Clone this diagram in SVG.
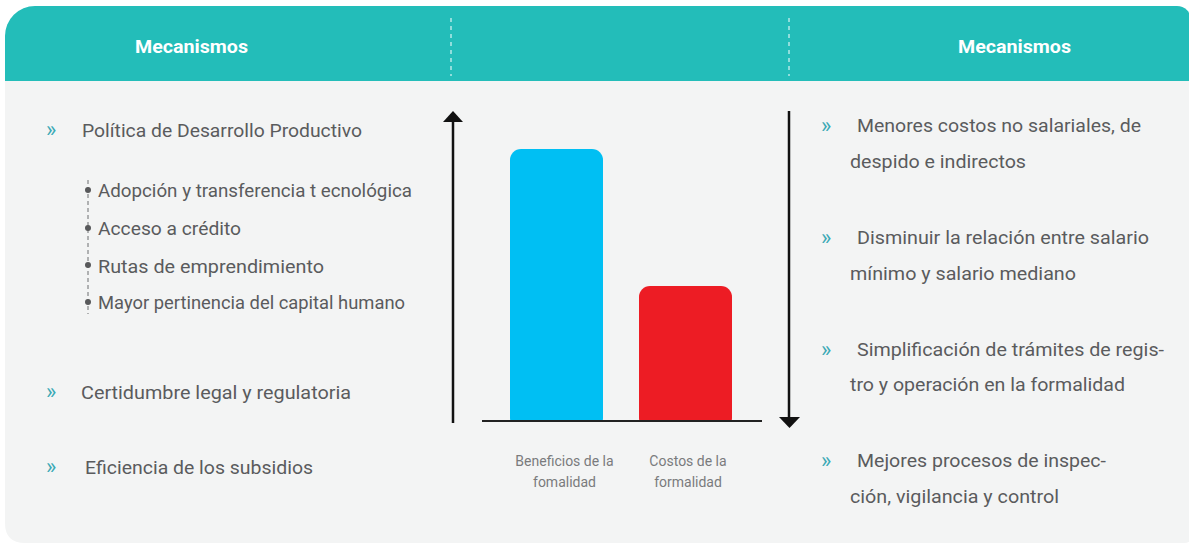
<svg xmlns="http://www.w3.org/2000/svg" width="1189" height="543" viewBox="0 0 1189 543">
  <defs>
    <style>
      .hdr { font-family: Roboto, "Liberation Sans", sans-serif; font-size: 18px; font-weight: bold; fill: #ffffff; }
      .txt { font-family: Roboto, "Liberation Sans", sans-serif; font-size: 18.5px; fill: #5a5b5d; }
      .bul { font-family: Roboto, "Liberation Sans", sans-serif; font-size: 22px; fill: #3aa9b5; }
      .lbl { font-family: Roboto, "Liberation Sans", sans-serif; font-size: 14px; fill: #7a7b7d; text-anchor: middle; }
      .dash { stroke: #ffffff; stroke-width: 1; stroke-dasharray: 4 4; }
      .ax { stroke: #111111; stroke-width: 2.5; fill: none; }
    </style>
  </defs>
  <rect x="0" y="0" width="1189" height="543" fill="#ffffff"/>
  <g id="card">
    <path d="M5,81 H1192 V535 Q1192,543 1184,543 H25 Q5,543 5,523 Z" fill="#f3f4f4"/>
    <path d="M5,81 V36 A30,30 0 0 1 35,6 H1177 A14,14 0 0 1 1191,20 V81 Z" fill="#23bdb9"/>
    <line class="dash" x1="451" y1="18" x2="451" y2="76"/>
    <line class="dash" x1="789" y1="18" x2="789" y2="76"/>
  </g>
  <g id="header-left"><text class="hdr" x="191.5" y="53" text-anchor="middle" textLength="113" lengthAdjust="spacingAndGlyphs">Mecanismos</text></g>
  <g id="header-right"><text class="hdr" x="1014.5" y="53" text-anchor="middle" textLength="113" lengthAdjust="spacingAndGlyphs">Mecanismos</text></g>

  <g id="left-1">
    <text class="bul" x="46" y="137">»</text>
    <text class="txt" x="82" y="137" textLength="280" lengthAdjust="spacingAndGlyphs">Política de Desarrollo Productivo</text>
  </g>
  <g id="left-sub">
    <line x1="88" y1="180" x2="88" y2="314" stroke="#6d6e70" stroke-width="1" stroke-dasharray="4 3"/>
    <circle cx="88" cy="190" r="3" fill="#58595b"/>
    <circle cx="88" cy="228" r="3" fill="#58595b"/>
    <circle cx="88" cy="265" r="3" fill="#58595b"/>
    <circle cx="88" cy="302" r="3" fill="#58595b"/>
    <text class="txt" x="98" y="197" textLength="314" lengthAdjust="spacingAndGlyphs">Adopción y transferencia t ecnológica</text>
    <text class="txt" x="98" y="235" textLength="143" lengthAdjust="spacingAndGlyphs">Acceso a crédito</text>
    <text class="txt" x="98" y="273" textLength="226" lengthAdjust="spacingAndGlyphs">Rutas de emprendimiento</text>
    <text class="txt" x="98" y="309" textLength="307" lengthAdjust="spacingAndGlyphs">Mayor pertinencia del capital humano</text>
  </g>
  <g id="left-2">
    <text class="bul" x="46" y="399">»</text>
    <text class="txt" x="81" y="399" textLength="270" lengthAdjust="spacingAndGlyphs">Certidumbre legal y regulatoria</text>
  </g>
  <g id="left-3">
    <text class="bul" x="46" y="474">»</text>
    <text class="txt" x="85" y="474" textLength="228" lengthAdjust="spacingAndGlyphs">Eficiencia de los subsidios</text>
  </g>

  <g id="chart">
    <rect x="510" y="149" width="93" height="280" rx="11" fill="#00bff3"/>
    <rect x="639" y="286" width="93" height="143" rx="11" fill="#ed1c24"/>
    <rect x="505" y="421" width="240" height="10" fill="#f3f4f4"/>
  </g>
  <g id="connectors">
    <line class="ax" x1="453" y1="423" x2="453" y2="120"/>
    <polygon points="443,122 463,122 453,111" fill="#111111"/>
    <line x1="482" y1="421" x2="762" y2="421" stroke="#222222" stroke-width="2"/>
    <line class="ax" x1="789" y1="111" x2="789" y2="419"/>
    <polygon points="779,417 800,417 789.5,428" fill="#111111"/>
  </g>
  <g id="label-beneficios">
    <text class="lbl" x="564.5" y="466">Beneficios de la</text>
    <text class="lbl" x="564.5" y="487">fomalidad</text>
  </g>
  <g id="label-costos">
    <text class="lbl" x="688" y="466">Costos de la</text>
    <text class="lbl" x="688" y="487">formalidad</text>
  </g>

  <g id="right-1">
    <text class="bul" x="821" y="133">»</text>
    <text class="txt" x="857" y="132" textLength="284" lengthAdjust="spacingAndGlyphs">Menores costos no salariales, de</text>
    <text class="txt" x="850" y="168" textLength="176" lengthAdjust="spacingAndGlyphs">despido e indirectos</text>
  </g>
  <g id="right-2">
    <text class="bul" x="821" y="245">»</text>
    <text class="txt" x="857" y="244" textLength="292" lengthAdjust="spacingAndGlyphs">Disminuir la relación entre salario</text>
    <text class="txt" x="850" y="280" textLength="226" lengthAdjust="spacingAndGlyphs">mínimo y salario mediano</text>
  </g>
  <g id="right-3">
    <text class="bul" x="821" y="357">»</text>
    <text class="txt" x="857" y="356" textLength="307" lengthAdjust="spacingAndGlyphs">Simplificación de trámites de regis-</text>
    <text class="txt" x="850" y="391" textLength="275" lengthAdjust="spacingAndGlyphs">tro y operación en la formalidad</text>
  </g>
  <g id="right-4">
    <text class="bul" x="821" y="468">»</text>
    <text class="txt" x="857" y="467" textLength="249" lengthAdjust="spacingAndGlyphs">Mejores procesos de inspec-</text>
    <text class="txt" x="850" y="503" textLength="209" lengthAdjust="spacingAndGlyphs">ción, vigilancia y control</text>
  </g>
</svg>
